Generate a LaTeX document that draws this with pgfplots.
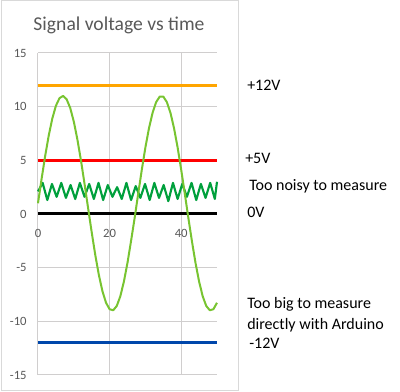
\documentclass[border=0pt]{standalone}
\usepackage{pgfplots}
\pgfplotsset{compat=1.18}
\usepackage{fontspec}
\setmainfont{Carlito}
\definecolor{gridgray}{HTML}{D0CECE}
\definecolor{txtgray}{HTML}{595959}
\definecolor{borderg}{HTML}{D9D9D9}
\definecolor{lorange}{HTML}{FFA500}
\definecolor{lred}{HTML}{FF0000}
\definecolor{lblue}{HTML}{0047AB}
\definecolor{lgreen}{HTML}{78C431}
\definecolor{dgreen}{HTML}{00A03C}
\begin{document}
\begin{tikzpicture}
\useasboundingbox (0,0) rectangle (300pt,294pt);
\draw[borderg, line width=0.75pt] (0.75pt,0.75pt) rectangle (178.5pt,293.25pt);
\node[txtgray, font=\fontsize{14.7}{16}\selectfont] at (89.25pt,275.25pt) {Signal voltage vs time};
\begin{axis}[
  at={(28.5pt,12.75pt)}, anchor=south west,
  scale only axis, width=134.25pt, height=241.5pt,
  xmin=0, xmax=50, ymin=-15, ymax=15,
  axis x line=middle, axis y line=left,
  axis line style={-, gridgray, line width=0.75pt},
  hide obscured x ticks=false, hide obscured y ticks=false,
  xtick={0,20,40}, xticklabels={0,20,40},
  ytick={-15,-10,-5,0,5,10,15}, yticklabels={-15,-10,-5,0,5,10,15},
  major tick length=0pt,
  xmajorgrids, ymajorgrids,
  grid style={gridgray, line width=0.75pt},
  tick label style={txtgray, font=\fontsize{9.5}{10}\selectfont},
  xticklabel style={anchor=north, yshift=-8pt},
  yticklabel style={anchor=east, xshift=-5pt},
  clip=false,
]
\addplot[lorange, line width=2.25pt] coordinates {(0,12) (50,12)};
\addplot[lred, line width=2.25pt] coordinates {(0,5) (50,5)};
\addplot[black, line width=2.25pt] coordinates {(0,0) (50,0)};
\addplot[lblue, line width=2.25pt] coordinates {(0,-12) (50,-12)};
\addplot[dgreen, line width=1.6pt, line join=round] coordinates {
(0,2.1) (1.3,2.9) (2.6,1.3) (3.9,2.8) (5.2,1.6) (6.5,2.9) (7.8,1.5) (9.1,2.7)
(10.4,1.4) (11.7,2.9) (13,1.6) (14.3,2.8) (15.6,1.4) (16.9,2.9) (18.2,1.3)
(19.5,2.7) (20.8,1.6) (22.1,2.5) (23.4,1.4) (24.7,2.9) (26,1.3) (27.3,2.6)
(28.6,1.5) (29.9,2.8) (31.2,1.3) (32.5,2.9) (33.8,1.5) (35.1,2.7) (36.4,1.2)
(37.7,2.9) (39,1.4) (40.3,2.8) (41.6,1.6) (42.9,2.9) (44.2,1.3) (45.5,2.8)
(46.8,1.5) (48.1,2.9) (49.4,1.4) (50,3.0)};
\addplot[lgreen, line width=1.5pt, line join=round] coordinates {
(0,1.00) (1,3.26) (2,5.40) (3,7.31) (4,8.90) (5,10.08) (6,10.79) (7,11.00)
(8,10.69) (9,9.88) (10,8.61) (11,6.95) (12,5.00) (13,2.81) (14,0.54)
(15,-1.70) (16,-3.82) (17,-5.68) (18,-7.19) (19,-8.27) (20,-8.87) (21,-8.97)
(22,-8.57) (23,-7.66) (24,-6.29) (25,-4.54) (26,-2.50) (27,-0.36) (28,1.91)
(29,4.13) (30,6.20) (31,7.99) (32,9.42) (33,10.42) (34,10.94) (35,10.94)
(36,10.42) (37,9.43) (38,7.99) (39,6.20) (40,4.12) (41,1.91) (42,-0.36)
(43,-2.54) (44,-4.56) (45,-6.29) (46,-7.66) (47,-8.57) (48,-8.97) (49,-8.87)
(50,-8.27)};
\end{axis}
\begin{scope}[every node/.style={anchor=west, inner sep=0pt, font=\fontsize{12}{14}\selectfont}]
\node at (185.25pt,230.25pt) {+12V};
\node at (183.75pt,175.5pt) {+5V};
\node at (186.75pt,154.5pt) {Too noisy to measure};
\node at (185.25pt,135pt) {0V};
\node at (185.25pt,66pt) {Too big to measure};
\node at (185.25pt,50.25pt) {directly with Arduino};
\node at (186.75pt,36.75pt) {-12V};
\end{scope}
\end{tikzpicture}
\end{document}
